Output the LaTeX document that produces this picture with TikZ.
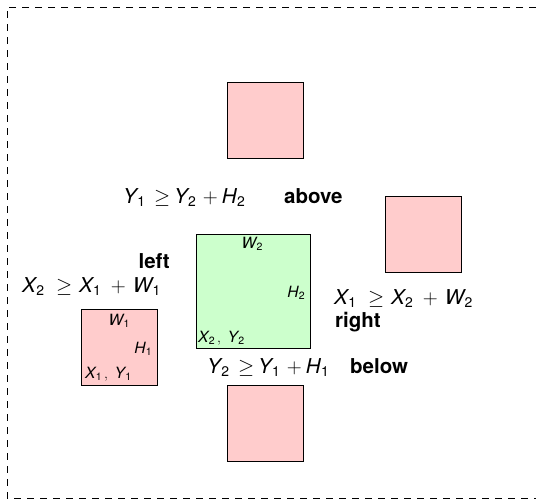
\documentclass[tikz,border=0pt]{standalone}
\usepackage{graphicx}
\usepackage{fontspec}
\setmainfont{TeX Gyre Heros}
\usetikzlibrary{positioning}
\definecolor{ovred}{HTML}{FFCCCC}
\definecolor{ovgreen}{HTML}{CCFFCC}
\newcommand\vr[2]{\mbox{\itshape #1\kern0.4pt\raisebox{-0.16em}{\upshape\scalebox{0.68}{#2}}}}
% optional argument: how much to take off every gap
\newcommand\ovcond[4][0pt]{#2\hspace{\dimexpr12pt-#1}$\geq$\hspace{\dimexpr7pt-#1}%
  #3\hspace{\dimexpr10pt-#1}$+$\hspace{\dimexpr7pt-#1}#4}
\tikzset{
  ovbox/.style={
    draw=black, fill=ovred, line width=0.8pt, inner sep=0pt,
    minimum width=76pt, minimum height=76pt},
  ovmain/.style={
    ovbox, fill=ovgreen, minimum width=114pt, minimum height=114pt},
  ovrule/.style={font=\fontsize{20.5}{24}\selectfont, inner sep=0pt},
  ovside/.style={font=\fontsize{20.5}{24}\selectfont\bfseries, inner sep=0pt},
  ovtag/.style={font=\fontsize{15.5}{18}\selectfont, inner sep=0pt},
  ovframe/.style={draw=black, line width=0.8pt, dash pattern=on 7pt off 6pt},
}

\begin{document}
\begin{tikzpicture}[x=1pt, y=-1pt]
\useasboundingbox (0,0) rectangle (536,499);

% Frame, running off the right edge.
\draw[ovframe] (536,7) -- (7,7) -- (7,498) -- (536,498);

% The fixed rectangle and its corner labels.
\node[ovmain] (mid) at (253,291) {};
\node[ovtag, anchor=base] (w2) at (252,248) {\vr{W}{2}};
\node[ovtag, anchor=base east] (h2) at (305,297) {\vr{H}{2}};
\node[ovtag, anchor=base west] (xy2) at (198,342)
  {$\vr{X}{2}\,,\;\vr{Y}{2}$};

% Candidate positions of the other rectangle.
\node[ovbox] (top) at (265,120) {};
\node[ovbox] (bot) at (265,423) {};
\node[ovbox] (rgt) at (423,234) {};
\node[ovbox] (lft) at (119,347) {};
\node[ovtag, anchor=base] (w1) at (119,325) {\vr{W}{1}};
\node[ovtag, anchor=base east] (h1) at (152,353) {\vr{H}{1}};
\node[ovtag, anchor=base west] (xy1) at (85,378)
  {$\vr{X}{1}\,,\;\vr{Y}{1}$};

% Non-overlap conditions.
\node[ovrule, anchor=base west] (ruleabove) at (123,203)
  {\ovcond[3pt]{\vr{Y}{1}}{\vr{Y}{2}}{\vr{H}{2}}};
\node[ovside, anchor=base west] (above) at (284,203) {above};
\node[ovside, anchor=base east] (left) at (170,268) {left};
\node[ovrule, anchor=base west] (ruleleft) at (22,292)
  {\ovcond{\vr{X}{2}}{\vr{X}{1}}{\vr{W}{1}}};
\node[ovrule, anchor=base west] (ruleright) at (334,304)
  {\ovcond{\vr{X}{1}}{\vr{X}{2}}{\vr{W}{2}}};
\node[ovside, anchor=base west] (right) at (335,327) {right};
\node[ovrule, anchor=base west] (rulebelow) at (207,373)
  {\ovcond[3pt]{\vr{Y}{2}}{\vr{Y}{1}}{\vr{H}{1}}};
\node[ovside, anchor=base west] (below) at (350,373) {below};

\end{tikzpicture}
\end{document}
